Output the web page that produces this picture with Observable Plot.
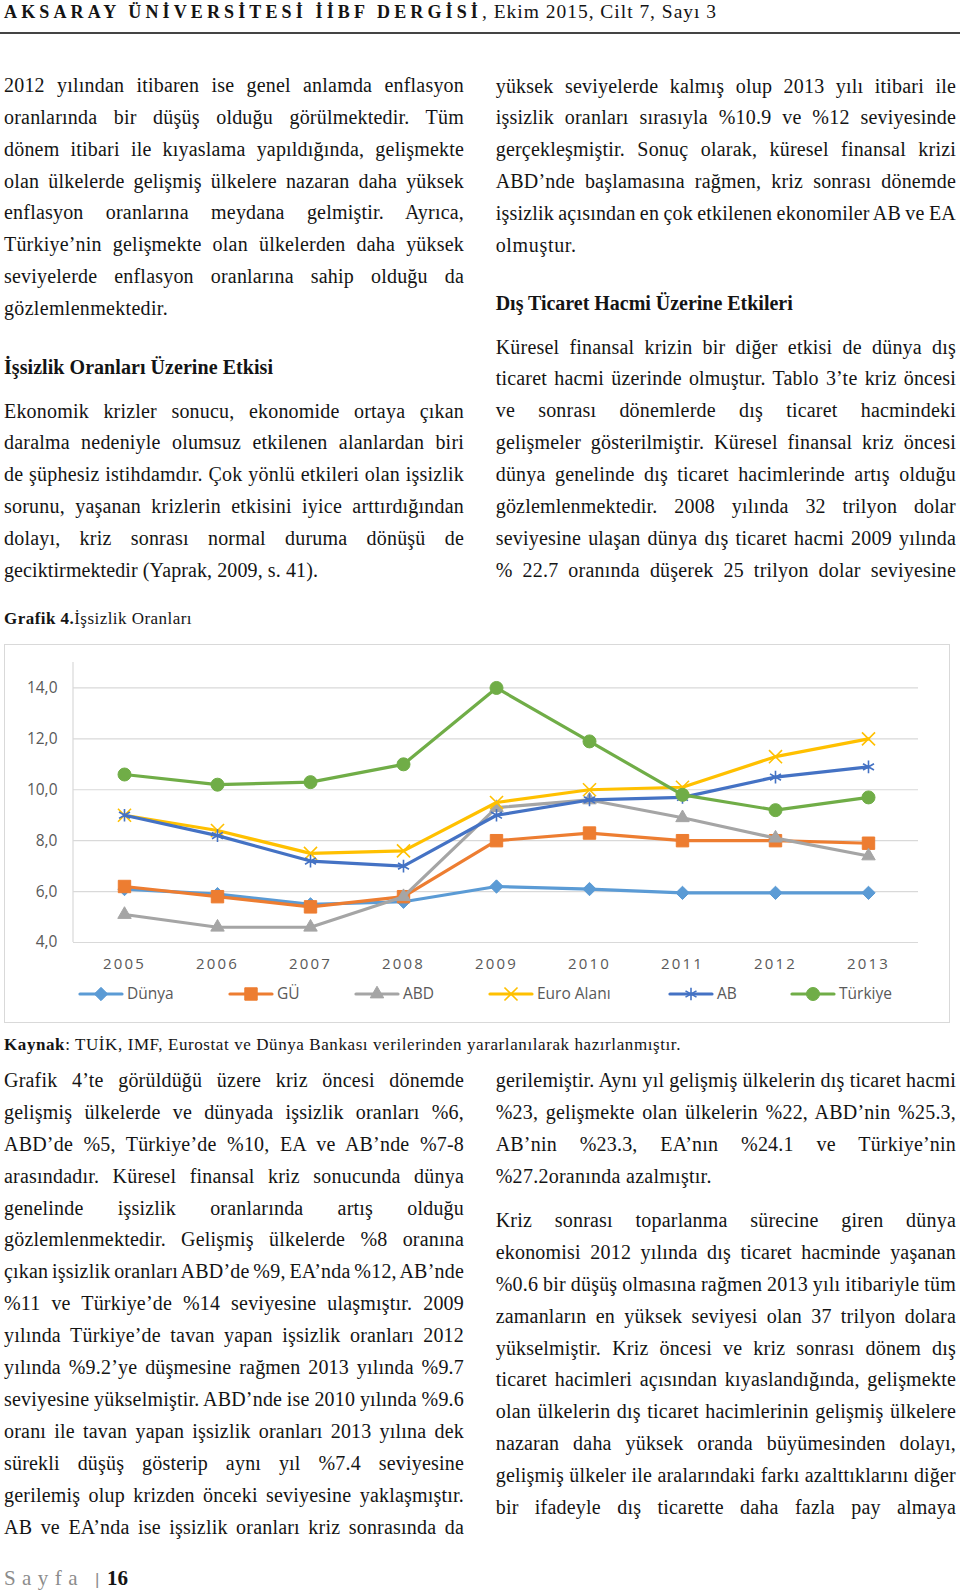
<!DOCTYPE html>
<html>
<head>
<meta charset="utf-8">
<script src="https://cdn.jsdelivr.net/npm/d3@7"></script>
<script src="https://cdn.jsdelivr.net/npm/@observablehq/plot@0.6"></script>
<style>
  html, body { margin: 0; padding: 0; background: #fff; }
  #page { position: relative; width: 960px; height: 1593px; overflow: hidden; background: #fff; }
  .ln { position: absolute; white-space: pre; color: #141414; }
</style>
</head>
<body>
<div id="page"></div>
<script>
// ---------------- DATA ----------------
const years = [2005, 2006, 2007, 2008, 2009, 2010, 2011, 2012, 2013];
const seriesNames = ["Dünya", "GÜ", "ABD", "Euro Alanı", "AB", "Türkiye"];
const dunya   = [6.1, 5.9, 5.5, 5.6, 6.2, 6.1, 5.95, 5.95, 5.95];
const gu      = [6.2, 5.8, 5.4, 5.8, 8.0, 8.3, 8.0, 8.0, 7.9];
const abd     = [5.1, 4.6, 4.6, 5.8, 9.3, 9.6, 8.9, 8.1, 7.4];
const euro    = [9.0, 8.4, 7.5, 7.6, 9.5, 10.0, 10.1, 11.3, 12.0];
const ab      = [9.0, 8.2, 7.2, 7.0, 9.0, 9.6, 9.7, 10.5, 10.9];
const turkiye = [10.6, 10.2, 10.3, 11.0, 14.0, 11.9, 9.8, 9.2, 9.7];
const seriesValues = [dunya, gu, abd, euro, ab, turkiye];
const yTicks = [4, 6, 8, 10, 12, 14];

// styles per series
const seriesColors  = ["#5B9BD5", "#ED7D31", "#A5A5A5", "#FFC000", "#4472C4", "#70AD47"];
const seriesSymbols = ["diamond2", "square", "triangle", "times", "asterisk", "circle"];
const seriesR       = [6, 7, 5, 6, 6, 6.5];
const strokeSymbols = new Set(["times", "asterisk"]);

// ---------------- TEXT ----------------
const headerBold = "AKSARAY ÜNİVERSİTESİ İİBF DERGİSİ";
const headerRest = ", Ekim 2015, Cilt 7, Sayı 3";

const leftTop = [
  "2012 yılından itibaren ise genel anlamda enflasyon",
  "oranlarında bir düşüş olduğu görülmektedir. Tüm",
  "dönem itibari ile kıyaslama yapıldığında, gelişmekte",
  "olan ülkelerde gelişmiş ülkelere nazaran daha yüksek",
  "enflasyon oranlarına meydana gelmiştir. Ayrıca,",
  "Türkiye’nin gelişmekte olan ülkelerden daha yüksek",
  "seviyelerde enflasyon oranlarına sahip olduğu da",
  "gözlemlenmektedir."
];
const leftHeading = "İşsizlik Oranları Üzerine Etkisi";
const leftP2 = [
  "Ekonomik krizler sonucu, ekonomide ortaya çıkan",
  "daralma nedeniyle olumsuz etkilenen alanlardan biri",
  "de şüphesiz istihdamdır. Çok yönlü etkileri olan işsizlik",
  "sorunu, yaşanan krizlerin etkisini iyice arttırdığından",
  "dolayı, kriz sonrası normal duruma dönüşü de",
  "geciktirmektedir (Yaprak, 2009, s. 41)."
];
const rightTop = [
  "yüksek seviyelerde kalmış olup 2013 yılı itibari ile",
  "işsizlik oranları sırasıyla %10.9 ve %12 seviyesinde",
  "gerçekleşmiştir. Sonuç olarak, küresel finansal krizi",
  "ABD’nde başlamasına rağmen, kriz sonrası dönemde",
  "işsizlik açısından en çok etkilenen ekonomiler AB ve EA",
  "olmuştur."
];
const rightHeading = "Dış Ticaret Hacmi Üzerine Etkileri";
const rightP2 = [
  "Küresel finansal krizin bir diğer etkisi de dünya dış",
  "ticaret hacmi üzerinde olmuştur. Tablo 3’te kriz öncesi",
  "ve sonrası dönemlerde dış ticaret hacmindeki",
  "gelişmeler gösterilmiştir. Küresel finansal kriz öncesi",
  "dünya genelinde dış ticaret hacimlerinde artış olduğu",
  "gözlemlenmektedir. 2008 yılında 32 trilyon dolar",
  "seviyesine ulaşan dünya dış ticaret hacmi 2009 yılında",
  "% 22.7 oranında düşerek 25 trilyon dolar seviyesine"
];
const captionBold = "Grafik 4.";
const captionText = "İşsizlik Oranları";
const sourceBold = "Kaynak";
const sourceText = ": TUİK, IMF, Eurostat ve Dünya Bankası verilerinden yararlanılarak hazırlanmıştır.";
const leftBottom = [
  "Grafik 4’te görüldüğü üzere kriz öncesi dönemde",
  "gelişmiş ülkelerde ve dünyada işsizlik oranları %6,",
  "ABD’de %5, Türkiye’de %10, EA ve AB’nde %7-8",
  "arasındadır. Küresel finansal kriz sonucunda dünya",
  "genelinde işsizlik oranlarında artış olduğu",
  "gözlemlenmektedir. Gelişmiş ülkelerde %8 oranına",
  "çıkan işsizlik oranları ABD’de %9, EA’nda %12, AB’nde",
  "%11 ve Türkiye’de %14 seviyesine ulaşmıştır. 2009",
  "yılında Türkiye’de tavan yapan işsizlik oranları 2012",
  "yılında %9.2’ye düşmesine rağmen 2013 yılında %9.7",
  "seviyesine yükselmiştir. ABD’nde ise 2010 yılında %9.6",
  "oranı ile tavan yapan işsizlik oranları 2013 yılına dek",
  "sürekli düşüş gösterip aynı yıl %7.4 seviyesine",
  "gerilemiş olup krizden önceki seviyesine yaklaşmıştır.",
  "AB ve EA’nda ise işsizlik oranları kriz sonrasında da"
];
const rightBottom1 = [
  "gerilemiştir. Aynı yıl gelişmiş ülkelerin dış ticaret hacmi",
  "%23, gelişmekte olan ülkelerin %22, ABD’nin %25.3,",
  "AB’nin %23.3, EA’nın %24.1 ve Türkiye’nin",
  "%27.2oranında azalmıştır."
];
const rightBottom2 = [
  "Kriz sonrası toparlanma sürecine giren dünya",
  "ekonomisi 2012 yılında dış ticaret hacminde yaşanan",
  "%0.6 bir düşüş olmasına rağmen 2013 yılı itibariyle tüm",
  "zamanların en yüksek seviyesi olan 37 trilyon dolara",
  "yükselmiştir. Kriz öncesi ve kriz sonrası dönem dış",
  "ticaret hacimleri açısından kıyaslandığında, gelişmekte",
  "olan ülkelerin dış ticaret hacimlerinin gelişmiş ülkelere",
  "nazaran daha yüksek oranda büyümesinden dolayı,",
  "gelişmiş ülkeler ile aralarındaki farkı azalttıklarını diğer",
  "bir ifadeyle dış ticarette daha fazla pay almaya"
];
const footerWord = "Sayfa";
const footerNum = "16";

// ---------------- PAGE TEXT LAYOUT ----------------
const page = document.getElementById("page");
const SERIF = "'Liberation Serif', 'Times New Roman', serif";
const BODY_FS = 20;
const BASE_LS = 0.2;

function addLine(parts, o) {
  const fs = o.size || BODY_FS;
  const d = document.createElement("div");
  d.className = "ln";
  d.style.left = o.x + "px";
  d.style.top = (o.baseline - 0.8375 * fs) + "px";
  d.style.fontFamily = o.font || SERIF;
  d.style.fontSize = fs + "px";
  d.style.lineHeight = fs + "px";
  if (o.color) d.style.color = o.color;
  const sp = document.createElement("span");
  for (const p of parts) {
    const s = document.createElement("span");
    s.textContent = p.t;
    if (p.bold) s.style.fontWeight = "bold";
    sp.appendChild(s);
  }
  if (o.bold) sp.style.fontWeight = "bold";
  d.appendChild(sp);
  page.appendChild(d);
  const base = o.ls !== undefined ? o.ls : BASE_LS;
  sp.style.letterSpacing = base + "px";
  const w = sp.getBoundingClientRect().width;
  const txt = sp.textContent;
  if (o.mode === "justify") {
    const s = (txt.match(/ /g) || []).length;
    if (s > 0) sp.style.wordSpacing = ((o.width - w) / s) + "px";
  } else if (o.mode === "fit") {
    const n = [...txt].length;
    sp.style.letterSpacing = (base + (o.width - w) / n) + "px";
  }
  return d;
}

function paragraph(lines, x, width, baseline0, step, lastWidth) {
  lines.forEach((t, i) => {
    const isLast = i === lines.length - 1 && lastWidth !== undefined;
    addLine([{t}], {
      x, baseline: baseline0 + i * step,
      mode: isLast ? "fit" : "justify",
      width: isLast ? lastWidth : width
    });
  });
}

// header
addLine([{t: headerBold}], {x: 4, baseline: 18.5, size: 18, bold: true, mode: "fit", width: 478, ls: 0});
addLine([{t: headerRest}], {x: 482, baseline: 18.5, size: 19.5, mode: "fit", width: 235, ls: 0});
const rule = document.createElement("div");
rule.style.cssText = "position:absolute;left:0;top:32.3px;width:960px;height:2px;background:#444;";
page.appendChild(rule);

const LX = 4, LW = 460, RX = 495.7, RW = 460.3, STEP = 31.85;
paragraph(leftTop, LX, LW, 91.7, STEP, 164);
addLine([{t: leftHeading}], {x: LX, baseline: 373.3, bold: true, mode: "fit", width: 269, ls: 0});
paragraph(leftP2, LX, LW, 417.3, STEP, 314);
addLine([{t: captionBold, bold: true}, {t: captionText}], {x: LX, baseline: 624, size: 17, mode: "fit", width: 188, ls: 0});

paragraph(rightTop, RX, RW, 92.3, STEP, 81);
addLine([{t: rightHeading}], {x: RX, baseline: 309.3, bold: true, mode: "fit", width: 297, ls: 0});
paragraph(rightP2, RX, RW, 353.3, STEP);

addLine([{t: sourceBold, bold: true}, {t: sourceText}], {x: LX, baseline: 1050.7, size: 17, mode: "fit", width: 677, ls: 0});

paragraph(leftBottom, LX, LW, 1086.7, 31.9);
paragraph(rightBottom1, RX, RW, 1086.7, 31.9, 216);
paragraph(rightBottom2, RX, RW, 1226.7, 31.9);

// footer
addLine([{t: footerWord}], {x: 4, baseline: 1586, size: 21, mode: "fit", width: 80, ls: 0, color: "#8c8c8c"});
addLine([{t: "|"}], {x: 95, baseline: 1585, size: 17, ls: 0, color: "#8c8c8c", font: "'Liberation Sans', sans-serif"});
addLine([{t: footerNum}], {x: 107, baseline: 1586, size: 21, bold: true, ls: 0});

// ---------------- CHART ----------------
const CH_X = 4, CH_Y = 644, CH_W = 946, CH_H = 379;
const rows = seriesNames.flatMap((name, si) =>
  years.map((yr, i) => ({series: name, year: String(yr), value: seriesValues[si][i]}))
);

const M = {left: 69, right: 32, top: 18, bottom: 81};
const seriesMarks = seriesNames.flatMap((name, si) => {
  const data = rows.filter(d => d.series === name);
  const sym = seriesSymbols[si];
  const isStroke = strokeSymbols.has(sym);
  return [
    Plot.line(data, {x: "year", y: "value", stroke: seriesColors[si], strokeWidth: 3.2,
                     strokeLinejoin: "round", strokeLinecap: "round"}),
    Plot.dot(data, {x: "year", y: "value", symbol: sym, r: seriesR[si],
                    fill: isStroke ? "none" : seriesColors[si],
                    stroke: seriesColors[si], strokeWidth: isStroke ? 1.6 : 1})
  ];
});

const chart = Plot.plot({
  width: CH_W, height: CH_H,
  marginLeft: M.left, marginRight: M.right, marginTop: M.top, marginBottom: M.bottom,
  style: {fontFamily: "'Open Sans', sans-serif", fontSize: "15.5px", color: "#595959", background: "transparent", overflow: "visible"},
  x: {type: "point", domain: years.map(String), padding: 0.5, label: null},
  y: {domain: [4, 15], label: null},
  marks: [
    Plot.gridY(yTicks, {stroke: "#d9d9d9", strokeOpacity: 1, strokeWidth: 1.2}),
    Plot.axisY(yTicks, {tickSize: 0, tickPadding: 16, label: null, fontSize: 15.5, fill: "#595959",
                        tickFormat: d => d.toFixed(1).replace(".", ",")}),
    Plot.axisX({tickSize: 0, tickPadding: 16, label: null, fontSize: 15, fill: "#595959"}),
    ...seriesMarks
  ]
});
chart.style.position = "absolute";
chart.style.left = CH_X + "px";
chart.style.top = CH_Y + "px";
page.appendChild(chart);

// vertical axis line + letter-spaced year labels
const svg = d3.select(chart);
const ys = chart.scale("y");
svg.insert("line", ":first-child")
  .attr("x1", M.left).attr("x2", M.left)
  .attr("y1", ys.apply(15)).attr("y2", ys.apply(4))
  .attr("stroke", "#d9d9d9").attr("stroke-width", 1.2);
svg.selectAll('[aria-label="x-axis tick label"] text').attr("letter-spacing", "2.2px");

// chart border
const border = document.createElement("div");
border.style.cssText = `position:absolute;left:${CH_X}px;top:${CH_Y}px;width:${CH_W - 2}px;height:${CH_H - 2}px;border:1px solid #d9d9d9;pointer-events:none;`;
page.appendChild(border);

// legend
const legendStarts = [80, 230, 356, 490, 670, 792];
const leg = d3.select(page).append("svg")
  .attr("width", 960).attr("height", 30)
  .style("position", "absolute").style("left", "0px").style("top", "980px");
const symMap = {diamond2: d3.symbolDiamond2, square: d3.symbolSquare, triangle: d3.symbolTriangle,
                times: d3.symbolTimes, asterisk: d3.symbolAsterisk, circle: d3.symbolCircle};
seriesNames.forEach((name, si) => {
  const x0 = legendStarts[si], cy = 14, len = 42;
  const g = leg.append("g");
  g.append("line").attr("x1", x0).attr("x2", x0 + len).attr("y1", cy).attr("y2", cy)
    .attr("stroke", seriesColors[si]).attr("stroke-width", 3.2).attr("stroke-linecap", "round");
  const sym = seriesSymbols[si];
  const isStroke = strokeSymbols.has(sym);
  const r = seriesR[si];
  g.append("path")
    .attr("d", d3.symbol().type(symMap[sym]).size(Math.PI * r * r)())
    .attr("transform", `translate(${x0 + len / 2},${cy})`)
    .attr("fill", isStroke ? "none" : seriesColors[si])
    .attr("stroke", seriesColors[si]).attr("stroke-width", isStroke ? 1.6 : 1);
  g.append("text").attr("x", x0 + len + 5).attr("y", cy).attr("dy", "0.35em")
    .attr("font-family", "'Open Sans', sans-serif").attr("font-size", 15.5).attr("fill", "#595959")
    .text(name);
});
</script>
</body>
</html>
